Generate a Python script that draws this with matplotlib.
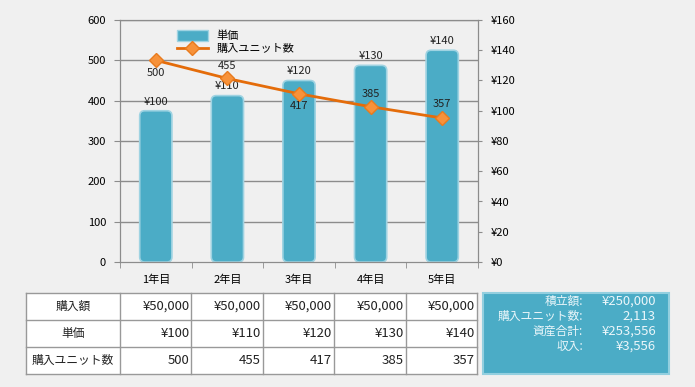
import numpy as np
import matplotlib.pyplot as plt
from matplotlib.patches import FancyBboxPatch, Rectangle, Patch
from matplotlib.lines import Line2D

plt.rcParams['font.family'] = ['Noto Sans CJK JP', 'DejaVu Sans']
plt.rcParams['font.size'] = 8

years = ['1年目', '2年目', '3年目', '4年目', '5年目']
amount = [50000, 50000, 50000, 50000, 50000]
price = [100, 110, 120, 130, 140]
units = [500, 455, 417, 385, 357]
row_labels = ['購入額', '単価', '購入ユニット数']
summary_labels = ['積立額:', '購入ユニット数:', '資産合計:', '収入:']
summary_values = ['¥250,000', '2,113', '¥253,556', '¥3,556']

# above/below placement of the unit labels (points)
unit_offsets = [-9, 9, -9, 9, 10]

bar_color = '#4bacc6'
line_color = '#e46c0a'
grid_color = '#8c8c8c'

fig = plt.figure(figsize=(6.95, 3.87), dpi=100, facecolor='#f0f0f0')
W, H = 695, 387
left, right, top, bottom = 120, 478, 20, 262
ax_line = fig.add_axes([left / W, 1 - bottom / H, (right - left) / W, (bottom - top) / H])
ax_bar = ax_line.twinx()
ax_bar.set_zorder(ax_line.get_zorder() - 1)
ax_line.set_zorder(ax_bar.get_zorder() + 1)
ax_line.patch.set_visible(False)
ax_bar.patch.set_facecolor('white')

x = np.arange(len(years))
unit_max, price_max = 600, 160
ax_line.set_ylim(0, unit_max)
ax_bar.set_ylim(0, price_max)
ax_line.set_xlim(-0.5, len(years) - 0.5)

# gridlines follow the left axis but sit behind the bars
unit_ticks = np.arange(0, unit_max + 1, 100)
for t in unit_ticks[1:]:
    ax_bar.axhline(t * price_max / unit_max, color=grid_color, lw=1, zorder=0)

# rounded bars
bw = 0.45
px_x = (right - left) / len(years)
px_y = (bottom - top) / price_max
for xi, p in zip(x, price):
    patch = FancyBboxPatch((xi - bw / 2, 0), bw, p,
                           boxstyle='round,pad=0,rounding_size=0.07',
                           mutation_aspect=px_x / px_y,
                           facecolor=bar_color, edgecolor='#9fd3e2', lw=1.2, zorder=2)
    ax_bar.add_patch(patch)
    ax_bar.annotate(f'¥{p}', (xi, p), xytext=(0, 3), textcoords='offset points',
                    ha='center', va='bottom', fontsize=8, color='#222222')

ax_line.plot(x, units, color=line_color, lw=2, marker='D', ms=7.5,
             mfc='#f7923a', mec='#e87b1e', zorder=3)
for xi, u, off in zip(x, units, unit_offsets):
    ax_line.annotate(str(u), (xi, u), xytext=(0, off), textcoords='offset points',
                     ha='center', va='center', fontsize=8, color='#222222')

# axes styling
for a in (ax_line, ax_bar):
    for s in a.spines.values():
        s.set_color(grid_color)
ax_line.set_yticks(unit_ticks)
ax_line.tick_params(axis='y', length=4, color=grid_color, pad=6, labelsize=8)
ax_bar.set_yticks(np.arange(0, price_max + 1, 20))
ax_bar.set_yticklabels([f'¥{v}' for v in np.arange(0, price_max + 1, 20)])
ax_bar.tick_params(axis='y', length=3, color=grid_color, pad=6, labelsize=8)
ax_line.set_xticks(x)
ax_line.set_xticklabels(years, fontsize=8)
ax_line.set_xticks(np.arange(-0.5, len(years)), minor=True)
ax_line.tick_params(axis='x', which='major', length=0, pad=9)
ax_line.tick_params(axis='x', which='minor', length=4, color=grid_color)

handles = [Patch(facecolor=bar_color, edgecolor='#9fd3e2'),
           Line2D([], [], color=line_color, lw=2, marker='D', ms=7.5, mfc='#f7923a', mec='#e87b1e')]
ax_line.legend(handles, ['単価', '購入ユニット数'], loc='upper left',
               bbox_to_anchor=(0.13, 1.0), frameon=False, fontsize=8,
               handlelength=2.8, handleheight=1.1, labelspacing=0.2)

# table and summary box drawn in pixel coordinates
tab = fig.add_axes([0, 0, 1, 1], zorder=5)
tab.set_xlim(0, W)
tab.set_ylim(H, 0)
tab.axis('off')
tab.patch.set_visible(False)

col_edges = np.concatenate([[26], np.linspace(120, 477, len(years) + 1)])
row_edges = np.linspace(293, 374, len(row_labels) + 1)
rows = [[f'¥{v:,}' for v in amount], [f'¥{v}' for v in price], [str(v) for v in units]]
tab.add_patch(Rectangle((col_edges[0], row_edges[0]), col_edges[-1] - col_edges[0],
                        row_edges[-1] - row_edges[0], facecolor='white', edgecolor='none'))
for xe in col_edges:
    tab.plot([xe, xe], [row_edges[0], row_edges[-1]], color='#999999', lw=1)
for ye in row_edges:
    tab.plot([col_edges[0], col_edges[-1]], [ye, ye], color='#999999', lw=1)
for r, (lab, vals) in enumerate(zip(row_labels, rows)):
    yc = (row_edges[r] + row_edges[r + 1]) / 2
    tab.text((col_edges[0] + col_edges[1]) / 2, yc, lab, ha='center', va='center',
             fontsize=8.5, color='#222222')
    for c, v in enumerate(vals):
        tab.text(col_edges[c + 2] - 2, yc, v, ha='right', va='center',
                 fontsize=9.5, color='#222222')

tab.add_patch(Rectangle((483, 293), 186, 81, facecolor=bar_color, edgecolor='#93cfdf', lw=1.5))
sy = np.linspace(301, 346, len(summary_labels))
for yy, lab, val in zip(sy, summary_labels, summary_values):
    tab.text(583, yy, lab, ha='right', va='center', fontsize=8.5, color='#eaf6fa')
    tab.text(656, yy, val, ha='right', va='center', fontsize=9.5, color='#eaf6fa')

fig.savefig('out.png', dpi=100, facecolor=fig.get_facecolor())
